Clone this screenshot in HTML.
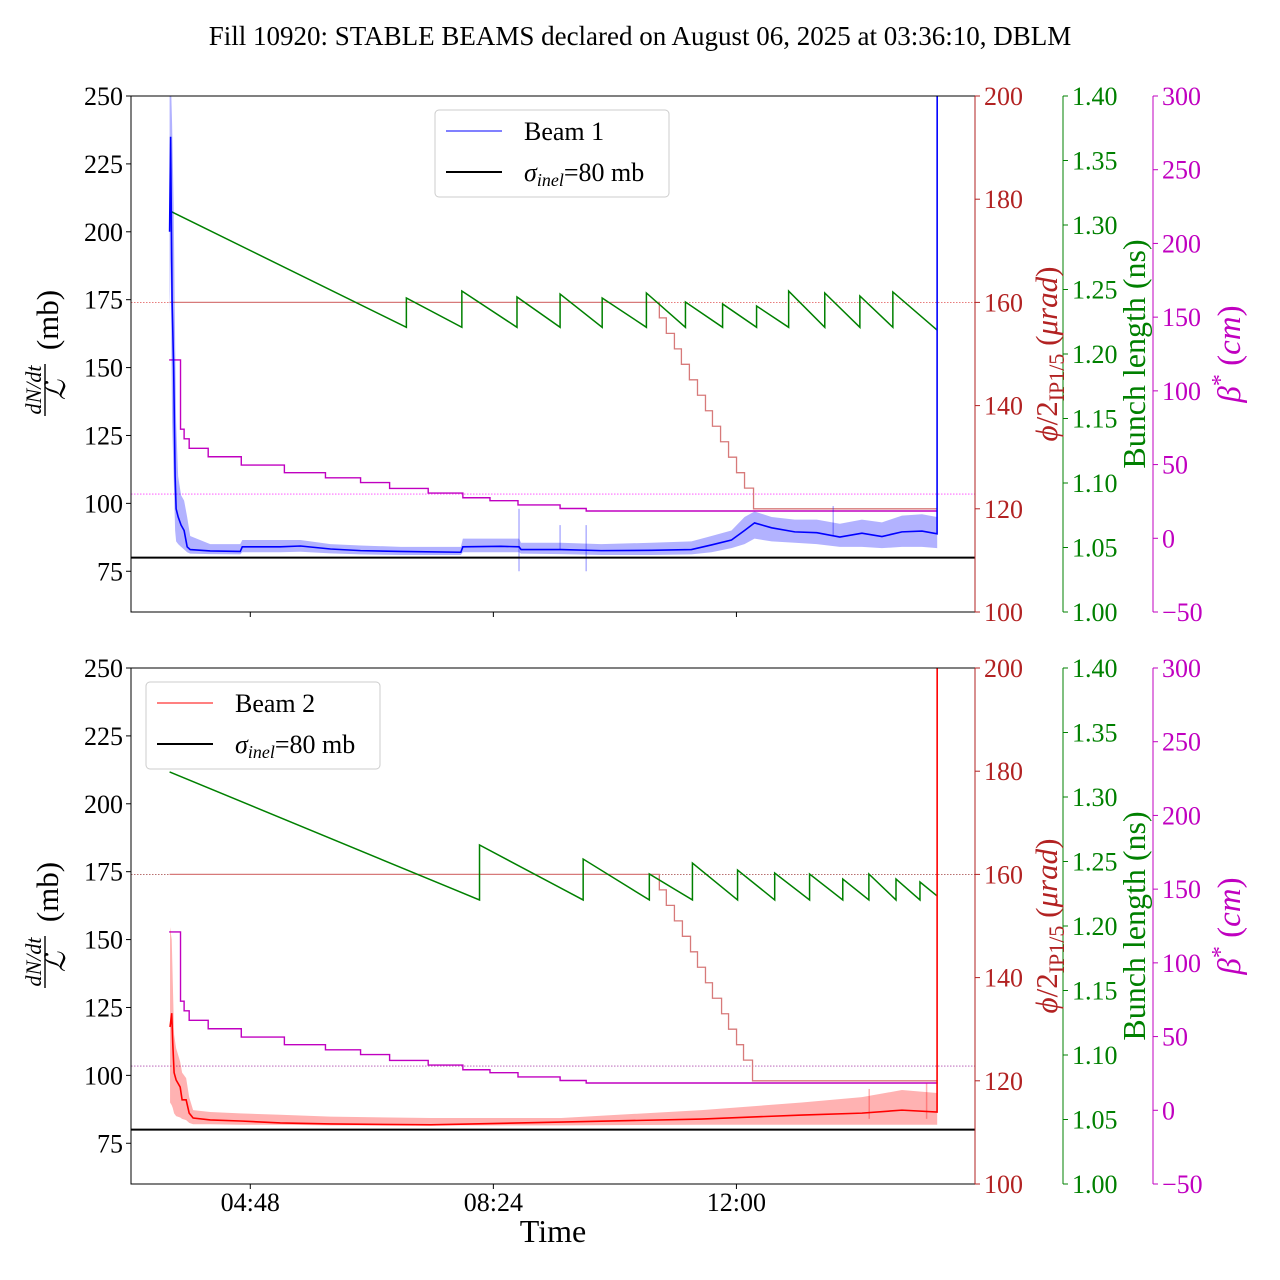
<!DOCTYPE html>
<html><head><meta charset="utf-8"><style>
html,body{margin:0;padding:0;background:#fff}
svg{display:block}
text{font-family:"Liberation Serif","DejaVu Serif",serif}
</style></head><body>
<svg id="chart" width="1280" height="1280" viewBox="0 0 1280 1280" xmlns="http://www.w3.org/2000/svg">
<text x="640" y="45" font-size="27" text-anchor="middle">Fill 10920: STABLE BEAMS declared on August 06, 2025 at 03:36:10, DBLM</text>
<g id="layer"></g>
</svg>
<script>
// ---- shared data (time in minutes since 00:00) ----
const xTickMinutes = [288, 504, 720];
const xTickLabels = ["04:48", "08:24", "12:00"];
const leftTicks = [75, 100, 125, 150, 175, 200, 225, 250];
const redTicks = [100, 120, 140, 160, 180, 200];
const greenTicks = [1.00, 1.05, 1.10, 1.15, 1.20, 1.25, 1.30, 1.35, 1.40];
const magentaTicks = [-50, 0, 50, 100, 150, 200, 250, 300];
const sigmaInel = 80;
const refCrossing = 160;
const refBeta = 30;

// ---- Beam 1 (top) ----
const b1Times = [216.3,217.2,218.5,219.9,221.2,222.1,223.9,226.5,229.2,231.9,234.6,252.4,279.1,280.9,314.7,332.6,359.3,386,421.7,475.1,476.9,510.7,526.8,528.6,564.2,599.8,644.4,680,697.8,715.6,727.2,736.1,751.3,771.8,791.4,811.9,831.5,849.3,867.1,884.9,898.3,898.4];
const b1Mean = [200,235,175,150,110,98,95,92,90,84,83,82.5,82.3,84,84,84.3,83.2,82.6,82.3,82,84,84.2,84,83,83,82.6,82.7,83,84.7,86.5,90,92.8,91,89.5,89.2,87.6,89,87.8,89.5,89.8,88.8,260];
const b1Upper = [260,260,240,210,160,130,110,103,101,95,88,85,85,86.5,86.5,86.5,85,84.5,84,84,87,87,87,85.5,85.5,85,85.5,86,88,90,95,97,95,94,94,92.5,94,93,95.5,96,95,94];
const b1Lower = [170,190,130,110,90,86,85,84,83,82,81.5,81.3,81.2,82,82,82.2,81.6,81.2,81,81,82,82,82,81.5,81.3,81,81,81.2,82,83.5,85,87,86,85.5,85,84,84,83.5,84,84,83.5,83.5];
const b1SpikeTimes = [526.8, 586.5, 563.3, 806];
const b1SpikeLo = [75, 75, 83, 88];
const b1SpikeHi = [98, 92, 92, 99];
const g1Start = 1.311, g1StartTime = 216.3;
const g1JumpTimes = [426.7,476,525,563.3,600.7,640,674.7,707.7,737.9,766.4,798.5,829.7,859];
const g1Trough = [1.2207,1.2207,1.2207,1.2207,1.2207,1.2207,1.2207,1.2207,1.2207,1.2207,1.2207,1.2207,1.2207];
const g1Peak = [1.2434,1.2488,1.2442,1.2465,1.2434,1.2473,1.2403,1.2388,1.2372,1.2488,1.2473,1.2450,1.2481];
const g1End = 1.2186, g1EndTime = 898.3;
const c1StepTimes = [651.5,657.7,664.9,671.1,678.2,685.4,692.5,698.7,705.9,713,720.1,727.2,735.2];
const c1StepValues = [157,154,151,148,145,142,139,136,133,130,127,124,120];
const beta1Times = [215.9,226,229.2,233.7,250.6,280,318.3,354.8,386,411.8,446.1,476.9,501,525.9,563.3,586.5];
const beta1Values = [121,74,67.5,61,55.3,49.7,44.5,41,37.8,33.8,30.7,27.5,25.5,22.6,20.2,18.5];

// ---- Beam 2 (bottom) ----
const b2Times = [216.7,218.2,219.1,220.3,222.1,225.7,227.4,231,233.7,237.2,252.4,279.1,314.7,359.3,448.4,564.2,688.9,778,831.5,867.1,898.3,898.4];
const b2Mean = [117.8,122.9,111.9,101,98.3,95.7,91,91,86.1,84.3,83.6,83.2,82.5,82.1,81.8,82.8,83.9,85.4,86.1,87.2,86.5,260];
const b2Upper = [154.6,150,135,115,110,105,101,99,92,87.2,86.5,86,85.5,84.8,84.3,84.3,87.2,90,92,94.6,93.5,93.5];
const b2Lower = [90,89,88,86,85,84.5,84,83.5,82.5,82,82,81.8,81.8,81.6,81.6,81.6,81.8,81.8,81.8,81.8,81.8,81.8];
const b2SpikeTimes = [838, 889];
const b2SpikeLo = [84, 84];
const b2SpikeHi = [95, 97];
const g2Start = 1.3194, g2StartTime = 216.3;
const g2JumpTimes = [491.7,583.8,642.6,680.9,721,754,785,814.5,837.7,861.8,883.1];
const g2Trough = [1.2202,1.2202,1.2202,1.2202,1.2202,1.2202,1.2202,1.2202,1.2202,1.2202,1.2202];
const g2Peak = [1.2628,1.2519,1.2403,1.2488,1.2434,1.2411,1.2403,1.2364,1.2403,1.2364,1.2341];
const g2End = 1.2233, g2EndTime = 898.3;
const c2StepTimes = [651.5,657.7,664.9,672,679.2,685.4,692.5,698.7,706.8,713,720.1,726.3,734.3];
const c2StepValues = [157,154,151,148,145,142,139,136,133,130,127,124,120];
const beta2Times = [215.9,226,229.2,233.7,250.6,280,318.3,354.8,386,411.8,446.1,476.9,501,525.9,563.3,586.5];
const beta2Values = [121,74,67.5,61,55.3,49.7,44.5,41,37.8,33.8,30.7,27.5,25.5,22.6,20.2,18.5];
const crossingStartTime = 216.3, crossingStart = 160, seriesEndTime = 898.3;

// ---- geometry ----
const NS = "http://www.w3.org/2000/svg";
const L = 131, R = 975, H = 516;
const T0 = 182, T1 = 932;
const layer = document.getElementById('layer');
function X(m){ return L + (m - T0) / (T1 - T0) * (R - L); }
function mk(tag, attrs, parent){ const e = document.createElementNS(NS, tag); for (const k in attrs) e.setAttribute(k, attrs[k]); (parent||layer).appendChild(e); return e; }
function txt(s, x, y, attrs, parent){ const e = mk('text', Object.assign({x:x, y:y}, attrs), parent); e.textContent = s; return e; }

function panel(top, d, idx){
  const YL = v => top + (250 - v) / 190 * H;
  const YR = v => top + (200 - v) / 100 * H;
  const YG = v => top + (1.4 - v) / 0.4 * H;
  const YM = v => top + (300 - v) / 350 * H;
  const g = mk('g', {});
  
  
  const clip = mk('clipPath', {id: 'clip' + idx}, g);
  mk('rect', {x: L, y: top, width: R - L, height: H}, clip);
  const pg = mk('g', {'clip-path': 'url(#clip' + idx + ')'}, g);

  const rl = mk('line', {x1: L, x2: R, y1: YR(refCrossing), y2: YR(refCrossing), stroke: idx===1?'#e05050':'#a04040', 'stroke-width': 0.8, 'stroke-dasharray': '1.5,1.5'}, pg);
  
  
  const ml = mk('line', {x1: L, x2: R, y1: YM(refBeta), y2: YM(refBeta), stroke: idx===1?'#ff40ff':'#b050b0', 'stroke-width': 0.8, 'stroke-dasharray': '1.5,1.5'}, pg);
  
  

  let p = `M${X(crossingStartTime)},${YR(crossingStart)}`;
  let cur = crossingStart;
  d.cT.forEach((t, i) => { p += ` L${X(t)},${YR(cur)} L${X(t)},${YR(d.cV[i])}`; cur = d.cV[i]; });
  p += ` L${X(seriesEndTime)},${YR(cur)}`;
  const cp = mk('path', {d: p, fill: 'none', stroke: '#d77a7a', 'stroke-width': 1.3}, pg);
  
  

  p = `M${X(d.bT[0])},${YM(d.bV[0])}`;
  for (let i = 1; i < d.bT.length; i++) p += ` L${X(d.bT[i])},${YM(d.bV[i-1])} L${X(d.bT[i])},${YM(d.bV[i])}`;
  p += ` L${X(seriesEndTime)},${YM(d.bV[d.bV.length-1])}`;
  const bp = mk('path', {d: p, fill: 'none', stroke: '#c000c0', 'stroke-width': 1.4}, pg);
  
  

  p = `M${X(d.gST)},${YG(d.gS)}`;
  d.gJ.forEach((t, i) => { p += ` L${X(t)},${YG(d.gTr[i])} L${X(t)},${YG(d.gPk[i])}`; });
  p += ` L${X(d.gET)},${YG(d.gE)}`;
  const gp = mk('path', {d: p, fill: 'none', stroke: '#008000', 'stroke-width': 1.5}, pg);
  
  

  const n = d.t.length;
  p = '';
  for (let i = 0; i < n; i++) p += (i ? ' L' : 'M') + X(d.t[i]) + ',' + YL(d.up[i]);
  for (let i = n - 1; i >= 0; i--) p += ' L' + X(d.t[i]) + ',' + YL(d.lo[i]);
  const band = mk('path', {d: p + 'Z', fill: d.bandCol, stroke: 'none'}, pg);
  
  
  d.sT.forEach((t, i) => {
    const s = mk('line', {x1: X(t), x2: X(t), y1: YL(d.sLo[i]), y2: YL(d.sHi[i]), stroke: d.bandCol, 'stroke-width': 1.5}, pg);
    
    
  });
  p = '';
  for (let i = 0; i < n; i++) p += (i ? ' L' : 'M') + X(d.t[i]) + ',' + YL(d.mean[i]);
  const ml2 = mk('path', {d: p, fill: 'none', stroke: d.col, 'stroke-width': 1.6}, pg);
  
  

  const sl = mk('line', {x1: L, x2: R, y1: YL(sigmaInel), y2: YL(sigmaInel), stroke: '#000', 'stroke-width': 2}, pg);
  
  

  const fr = mk('rect', {x: L, y: top, width: R - L, height: H, fill: 'none', stroke: '#000', 'stroke-width': 1}, g);
  
  

  leftTicks.forEach(v => {
    mk('line', {x1: L - 5, x2: L, y1: YL(v), y2: YL(v), stroke: '#000'}, g);
    const t = txt(String(v), L - 8, YL(v) + 9, {'font-size': 26, 'text-anchor': 'end'}, g);
    
    
  });
  xTickMinutes.forEach((m, i) => {
    mk('line', {x1: X(m), x2: X(m), y1: top + H, y2: top + H + 5, stroke: '#000'}, g);
    if (idx === 2) {
      const t = txt(xTickLabels[i], X(m), top + H + 27, {'font-size': 26, 'text-anchor': 'middle'}, g);
      
      
    }
  });
  const axes = [
    {x: 975, ticks: redTicks, Y: YR, col: '#b22222', fmt: v => String(v), name: 'crossing-angle-axis'},
    {x: 1063, ticks: greenTicks, Y: YG, col: '#008000', fmt: v => v.toFixed(2), name: 'bunch-length-axis'},
    {x: 1153, ticks: magentaTicks, Y: YM, col: '#c000c0', fmt: v => (v < 0 ? '\u2212' + (-v) : String(v)), name: 'beta-star-axis'}
  ];
  axes.forEach(a => {
    const ag = mk('g', {}, g);
    
    
    mk('line', {x1: a.x, x2: a.x, y1: top, y2: top + H, stroke: a.col, 'stroke-width': 1}, ag);
    a.ticks.forEach(v => {
      mk('line', {x1: a.x, x2: a.x + 5, y1: a.Y(v), y2: a.Y(v), stroke: a.col}, ag);
      txt(a.fmt(v), a.x + 9, a.Y(v) + 9, {'font-size': 26, fill: a.col}, ag);
    });
  });
  const cy = top + H / 2;
  const ll = mk('g', {transform: `translate(45,${cy}) rotate(-90)`}, g);
  
  
  txt('dN/dt', -36, -4, {'font-size': 22, 'font-style': 'italic', 'text-anchor': 'middle'}, ll);
  mk('line', {x1: -62, x2: -10, y1: 0, y2: 0, stroke: '#000', 'stroke-width': 1.4}, ll);
  txt('\u2112', -36, 20, {'font-size': 28, 'font-style': 'italic', 'text-anchor': 'middle'}, ll);
  txt('(mb)', 34, 13, {'font-size': 31, 'text-anchor': 'middle'}, ll);
  const rlab = mk('text', {transform: `translate(1057,${cy}) rotate(-90)`, 'font-size': 31, fill: '#b22222', 'text-anchor': 'middle'}, g);
  
  
  rlab.innerHTML = '<tspan font-style="italic">\u03D5</tspan>/2<tspan font-size="22" dy="7">IP1/5</tspan><tspan dy="-7"> (</tspan><tspan font-style="italic">\u03BCrad</tspan>)';
  const glab = txt('Bunch length (ns)', 0, 0, {transform: `translate(1145,${cy}) rotate(-90)`, 'font-size': 32, fill: '#008000', 'text-anchor': 'middle'}, g);
  
  
  const mlab = mk('text', {transform: `translate(1240,${cy}) rotate(-90)`, 'font-size': 33, fill: '#c000c0', 'text-anchor': 'middle'}, g);
  
  
  mlab.innerHTML = '<tspan font-style="italic">\u03B2</tspan><tspan font-size="24" dy="-12">*</tspan><tspan dy="12"> (</tspan><tspan font-style="italic">cm</tspan>)';

  const lg = mk('g', {}, g);
  
  
  const lx = d.legX, ly = top + 14;
  mk('rect', {x: lx, y: ly, width: 234, height: 87, rx: 4, fill: '#fff', 'fill-opacity': 0.8, stroke: '#ccc'}, lg);
  mk('line', {x1: lx + 11, x2: lx + 67, y1: ly + 21, y2: ly + 21, stroke: d.col, 'stroke-width': 1}, lg);
  const e1 = txt('Beam ' + idx, lx + 89, ly + 30, {'font-size': 26}, lg);
  
  
  mk('line', {x1: lx + 11, x2: lx + 67, y1: ly + 62, y2: ly + 62, stroke: '#000', 'stroke-width': 2}, lg);
  const e2 = mk('text', {x: lx + 89, y: ly + 71, 'font-size': 26}, lg);
  
  
  e2.innerHTML = '<tspan font-style="italic">\u03C3</tspan><tspan font-style="italic" font-size="18" dy="5">inel</tspan><tspan dy="-5">=80 mb</tspan>';
}

panel(96, {t: b1Times, mean: b1Mean, up: b1Upper, lo: b1Lower, sT: b1SpikeTimes, sLo: b1SpikeLo, sHi: b1SpikeHi,
  col: '#0000ff', bandCol: 'rgba(0,0,255,0.3)',
  gS: g1Start, gST: g1StartTime, gJ: g1JumpTimes, gTr: g1Trough, gPk: g1Peak, gE: g1End, gET: g1EndTime,
  cT: c1StepTimes, cV: c1StepValues, bT: beta1Times, bV: beta1Values, legX: 435}, 1);
panel(668, {t: b2Times, mean: b2Mean, up: b2Upper, lo: b2Lower, sT: b2SpikeTimes, sLo: b2SpikeLo, sHi: b2SpikeHi,
  col: '#ff0000', bandCol: 'rgba(255,0,0,0.3)',
  gS: g2Start, gST: g2StartTime, gJ: g2JumpTimes, gTr: g2Trough, gPk: g2Peak, gE: g2End, gET: g2EndTime,
  cT: c2StepTimes, cV: c2StepValues, bT: beta2Times, bV: beta2Values, legX: 146}, 2);

const xt = txt('Time', 553, 1242, {'font-size': 32, 'text-anchor': 'middle'});


</script>
</body></html>
